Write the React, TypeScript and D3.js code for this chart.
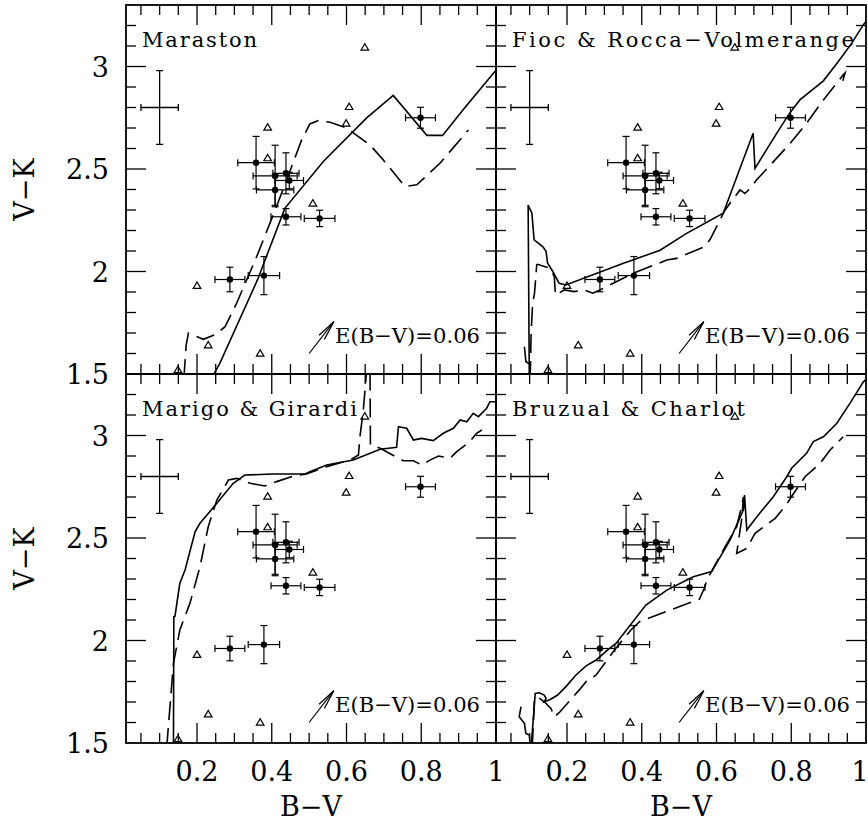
import React from 'react';
import * as d3 from 'd3';

// colour-colour diagram: B-V vs V-K, four model sets against the same clusters
type Pt = [number, number];

const bvDomain: Pt = [0.01, 1.0];
const vkDomain: Pt = [1.5, 3.3];

// clusters with error bars (filled dots)
const clusterBV = [0.358, 0.409, 0.438, 0.447, 0.409, 0.438, 0.528, 0.288, 0.379, 0.798];
const clusterVK = [2.531, 2.466, 2.479, 2.444, 2.398, 2.267, 2.259, 1.961, 1.98, 2.75];
const clusterBVErr = [0.049, 0.059, 0.035, 0.038, 0.05, 0.04, 0.041, 0.04, 0.042, 0.04];
const clusterVKErr = [0.128, 0.15, 0.1, 0.04, 0.075, 0.04, 0.04, 0.06, 0.093, 0.051];

// open triangles
const triBV = [0.649, 0.607, 0.599, 0.389, 0.389, 0.51, 0.2, 0.23, 0.369, 0.149];
const triVK = [3.094, 2.804, 2.723, 2.703, 2.554, 2.333, 1.931, 1.641, 1.601, 1.52];

// typical error cross
const refPoint: Pt = [0.1, 2.8];
const refErr: Pt = [0.05, 0.18];

// reddening vector
const reddenTail: Pt = [0.5, 1.6];
const reddenHead: Pt = [0.566, 1.755];
const reddenLabel = 'E(B−V)=0.06';

const xTickLabels = [0.2, 0.4, 0.6, 0.8, 1];
const yTickLabels = [1.5, 2, 2.5, 3];

// model tracks
const marastonSolid: Pt[] = [
  [0.239, 1.48], [0.261, 1.552], [0.362, 1.96], [0.435, 2.308], [0.538, 2.537], [0.654, 2.749],
  [0.725, 2.859], [0.815, 2.664], [0.857, 2.664], [0.912, 2.789], [0.953, 2.879], [0.997, 2.976], [1.01, 3.0],
];
const marastonDashed: Pt[] = [
  [0.165, 1.48], [0.171, 1.641], [0.177, 1.699], [0.217, 1.669], [0.251, 1.694], [0.275, 1.731],
  [0.306, 1.845], [0.36, 2.074], [0.413, 2.318], [0.44, 2.448], [0.48, 2.642], [0.502, 2.72],
  [0.525, 2.737], [0.556, 2.728], [0.6, 2.7], [0.663, 2.617], [0.698, 2.545], [0.756, 2.415],
  [0.788, 2.423], [0.85, 2.528], [0.926, 2.69],
];

const fiocSolid: Pt[] = [
  [0.099, 1.48], [0.099, 1.503], [0.096, 2.324], [0.106, 2.284], [0.112, 2.154], [0.135, 2.122],
  [0.144, 2.098], [0.148, 2.041], [0.162, 2.0], [0.179, 1.942], [0.197, 1.934], [0.351, 2.04],
  [0.376, 2.056], [0.449, 2.104], [0.52, 2.186], [0.618, 2.284], [0.698, 2.674], [0.703, 2.503],
  [0.761, 2.674], [0.792, 2.763], [0.823, 2.837], [0.886, 2.93], [0.926, 3.024], [0.962, 3.114],
  [0.993, 3.204], [1.01, 3.24],
];
const fiocDashed: Pt[] = [
  [0.086, 1.633], [0.09, 1.56], [0.097, 1.552], [0.101, 1.49], [0.102, 1.52], [0.104, 1.7],
  [0.108, 1.845], [0.113, 1.893], [0.119, 2.032], [0.121, 2.035], [0.148, 2.02], [0.157, 2.007],
  [0.166, 1.975], [0.169, 1.885], [0.193, 1.91], [0.219, 1.902], [0.246, 1.91], [0.269, 1.894],
  [0.288, 1.91], [0.377, 1.991], [0.467, 2.056], [0.493, 2.064], [0.569, 2.122], [0.583, 2.157],
  [0.623, 2.3], [0.636, 2.333], [0.663, 2.398], [0.676, 2.381], [0.69, 2.405], [0.707, 2.446],
  [0.797, 2.625], [0.841, 2.723], [0.886, 2.837], [0.939, 2.959], [0.944, 2.968], [0.938, 2.93],
];

const marigoSolid: Pt[] = [
  [0.137, 1.48], [0.138, 2.116], [0.141, 2.118], [0.154, 2.279], [0.168, 2.344], [0.195, 2.531],
  [0.208, 2.572], [0.253, 2.669], [0.297, 2.767], [0.328, 2.807], [0.404, 2.812], [0.489, 2.812],
  [0.502, 2.823], [0.547, 2.856], [0.618, 2.88], [0.69, 2.933], [0.734, 2.942], [0.739, 3.043],
  [0.761, 3.035], [0.779, 2.978], [0.801, 2.986], [0.832, 2.975], [0.859, 3.011], [0.886, 3.035],
  [0.904, 3.076], [0.922, 3.067], [0.939, 3.108], [0.953, 3.092], [0.975, 3.133], [0.984, 3.165],
  [1.01, 3.165],
];
const marigoDashed: Pt[] = [
  [0.119, 1.48], [0.137, 1.889], [0.154, 2.051], [0.181, 2.181], [0.208, 2.36], [0.23, 2.555],
  [0.253, 2.685], [0.284, 2.783], [0.306, 2.791], [0.342, 2.767], [0.382, 2.754], [0.413, 2.775],
  [0.458, 2.802], [0.493, 2.812], [0.547, 2.848], [0.609, 2.88], [0.632, 2.905], [0.636, 2.994],
  [0.645, 3.124], [0.654, 3.32], [0.66, 3.35], [0.663, 3.286], [0.664, 2.954], [0.69, 2.938],
  [0.734, 2.894], [0.752, 2.877], [0.779, 2.877], [0.801, 2.856], [0.823, 2.88], [0.846, 2.9],
  [0.877, 2.889], [0.895, 2.921], [0.93, 2.97], [0.948, 3.011], [0.962, 3.027],
];

const bruzualSolidA: Pt[] = [
  [0.077, 1.677], [0.072, 1.628], [0.086, 1.596], [0.09, 1.547], [0.099, 1.539], [0.102, 1.48],
];
const bruzualSolidB: Pt[] = [
  [0.104, 1.48], [0.115, 1.742], [0.126, 1.745], [0.139, 1.734], [0.144, 1.718], [0.139, 1.701],
  [0.155, 1.712], [0.175, 1.734], [0.197, 1.775], [0.224, 1.832], [0.251, 1.876], [0.278, 1.905],
  [0.309, 1.954], [0.331, 1.986], [0.411, 2.173], [0.467, 2.246], [0.538, 2.311], [0.587, 2.336],
  [0.636, 2.49], [0.672, 2.637], [0.675, 2.71], [0.681, 2.539], [0.708, 2.604], [0.752, 2.701],
  [0.788, 2.799], [0.801, 2.84], [0.841, 2.913], [0.859, 2.97], [0.886, 2.994], [0.922, 3.06],
  [0.957, 3.157], [0.993, 3.262], [1.01, 3.29],
];
const bruzualDashed: Pt[] = [
  [0.107, 1.48], [0.11, 1.6], [0.113, 1.72], [0.125, 1.72], [0.14, 1.7], [0.157, 1.669],
  [0.166, 1.628], [0.179, 1.648], [0.233, 1.759], [0.251, 1.799], [0.278, 1.832], [0.304, 1.897],
  [0.327, 1.954], [0.371, 2.051], [0.394, 2.092], [0.476, 2.149], [0.554, 2.201], [0.569, 2.262],
  [0.574, 2.295], [0.618, 2.441], [0.654, 2.555], [0.667, 2.653], [0.672, 2.7], [0.668, 2.6],
  [0.654, 2.425], [0.681, 2.45], [0.703, 2.523], [0.757, 2.596], [0.779, 2.645], [0.792, 2.677],
  [0.8, 2.7], [0.837, 2.799], [0.877, 2.864], [0.904, 2.929], [0.939, 2.994],
];

const panels = [
  { title: 'Maraston', titleLen: 115, col: 0, row: 0, solid: [marastonSolid], dashed: [marastonDashed] },
  { title: 'Fioc & Rocca−Volmerange', titleLen: 342, col: 1, row: 0, solid: [fiocSolid], dashed: [fiocDashed] },
  { title: 'Marigo & Girardi', titleLen: 215, col: 0, row: 1, solid: [marigoSolid], dashed: [marigoDashed] },
  { title: 'Bruzual & Charlot', titleLen: 233, col: 1, row: 1, solid: [bruzualSolidA, bruzualSolidB], dashed: [bruzualDashed] },
];

const colRange: Pt[] = [[126, 496], [496, 866]];
const rowRange: Pt[] = [[374, 5], [743, 374]];
const FONT = '"DejaVu Serif", "Liberation Serif", serif';

function Panel(props: any) {
  const { title, titleLen, col, row, solid, dashed } = props;
  const x = d3.scaleLinear().domain(bvDomain).range(colRange[col]);
  const y = d3.scaleLinear().domain(vkDomain).range(rowRange[row]);
  const line = d3.line<Pt>().x(d => x(d[0])).y(d => y(d[1]));
  const [left, right] = x.range();
  const [bottom, top] = y.range();
  const clipId = `clip-${col}-${row}`;

  const xt = d3.range(1, 20).map(i => ({ v: i * 0.05, major: i % 4 === 0 }));
  const yt = d3.range(16, 33).map(i => ({ v: i / 10, major: i % 5 === 0 }));

  // reddening arrow head
  const tx = x(reddenTail[0]), ty = y(reddenTail[1]);
  const hx = x(reddenHead[0]), hy = y(reddenHead[1]);
  const ang = Math.atan2(hy - ty, hx - tx);
  const barb = (s: number) => [hx - 20 * Math.cos(ang + s), hy - 20 * Math.sin(ang + s)];
  const b1 = barb(0.17), b2 = barb(-0.17);

  return (
    <g>
      <defs>
        <clipPath id={clipId}>
          <rect x={left} y={top} width={right - left} height={bottom - top} />
        </clipPath>
      </defs>
      {xt.map((t, i) => {
        const len = t.major ? 20 : 10;
        return (
          <g key={'x' + i} stroke="#000" strokeWidth={1.3}>
            <line x1={x(t.v)} x2={x(t.v)} y1={bottom} y2={bottom - len} />
            <line x1={x(t.v)} x2={x(t.v)} y1={top} y2={top + len} />
          </g>
        );
      })}
      {yt.map((t, i) => {
        const len = t.major ? 20 : 10;
        return (
          <g key={'y' + i} stroke="#000" strokeWidth={1.3}>
            <line x1={left} x2={left + len} y1={y(t.v)} y2={y(t.v)} />
            <line x1={right} x2={right - len} y1={y(t.v)} y2={y(t.v)} />
          </g>
        );
      })}
      <g clipPath={`url(#${clipId})`} fill="none" stroke="#000" strokeWidth={1.6}>
        {solid.map((s: Pt[], i: number) => <path key={'s' + i} d={line(s) || ''} />)}
        {dashed.map((s: Pt[], i: number) => (
          <path key={'d' + i} d={line(s) || ''} strokeDasharray="19 8" />
        ))}
      </g>
      {/* typical error */}
      <g stroke="#000" strokeWidth={1.3}>
        <line x1={x(refPoint[0] - refErr[0])} x2={x(refPoint[0] + refErr[0])} y1={y(refPoint[1])} y2={y(refPoint[1])} />
        <line x1={x(refPoint[0])} x2={x(refPoint[0])} y1={y(refPoint[1] - refErr[1])} y2={y(refPoint[1] + refErr[1])} />
        <line x1={x(refPoint[0] - refErr[0])} x2={x(refPoint[0] - refErr[0])} y1={y(refPoint[1]) - 3.5} y2={y(refPoint[1]) + 3.5} />
        <line x1={x(refPoint[0] + refErr[0])} x2={x(refPoint[0] + refErr[0])} y1={y(refPoint[1]) - 3.5} y2={y(refPoint[1]) + 3.5} />
        <line x1={x(refPoint[0]) - 3.5} x2={x(refPoint[0]) + 3.5} y1={y(refPoint[1] - refErr[1])} y2={y(refPoint[1] - refErr[1])} />
        <line x1={x(refPoint[0]) - 3.5} x2={x(refPoint[0]) + 3.5} y1={y(refPoint[1] + refErr[1])} y2={y(refPoint[1] + refErr[1])} />
      </g>
      {/* clusters */}
      {clusterBV.map((bv, i) => {
        const cx = x(bv), cy = y(clusterVK[i]);
        const xl = x(bv - clusterBVErr[i]), xr = x(bv + clusterBVErr[i]);
        const yb = y(clusterVK[i] - clusterVKErr[i]), ytp = y(clusterVK[i] + clusterVKErr[i]);
        return (
          <g key={'c' + i} stroke="#000" strokeWidth={1.2}>
            <line x1={xl} x2={xr} y1={cy} y2={cy} />
            <line x1={cx} x2={cx} y1={yb} y2={ytp} />
            <line x1={xl} x2={xl} y1={cy - 3.5} y2={cy + 3.5} />
            <line x1={xr} x2={xr} y1={cy - 3.5} y2={cy + 3.5} />
            <line x1={cx - 3.5} x2={cx + 3.5} y1={yb} y2={yb} />
            <line x1={cx - 3.5} x2={cx + 3.5} y1={ytp} y2={ytp} />
            <circle cx={cx} cy={cy} r={3.2} fill="#000" stroke="none" />
          </g>
        );
      })}
      {triBV.map((bv, i) => {
        const cx = x(bv), cy = y(triVK[i]);
        return (
          <path key={'t' + i} d={`M${cx - 3.8},${cy + 2.8}L${cx + 3.8},${cy + 2.8}L${cx},${cy - 3.6}Z`}
            fill="none" stroke="#000" strokeWidth={1.2} />
        );
      })}
      {/* reddening */}
      <g stroke="#000" strokeWidth={1.2} fill="none">
        <line x1={tx} y1={ty} x2={hx} y2={hy} />
        <line x1={b1[0]} y1={b1[1]} x2={hx} y2={hy} />
        <line x1={b2[0]} y1={b2[1]} x2={hx} y2={hy} />
      </g>
      <text x={left + 209} y={bottom - 31} fontFamily={FONT} fontSize={21} textLength={145}
        lengthAdjust="spacingAndGlyphs">{reddenLabel}</text>
      <text x={left + 16} y={top + 42} fontFamily={FONT} fontSize={21} textLength={titleLen}
        lengthAdjust="spacing">{title}</text>
      <rect x={left} y={top} width={right - left} height={bottom - top} fill="none" stroke="#000" strokeWidth={1.8} />
      {row === 1 && xTickLabels.map(v => {
        // keep the last label inside the page
        const px = Math.min(x(v), 860);
        return (
          <text key={'xl' + v} x={px} y={781} textAnchor="middle" fontFamily={FONT} fontSize={27}>
            {d3.format('~g')(v)}
          </text>
        );
      })}
      {col === 0 && yTickLabels.map(v => (
        <text key={'yl' + v} x={109} y={y(v) + 10} textAnchor="end" fontFamily={FONT} fontSize={27}>
          {d3.format('~g')(v)}
        </text>
      ))}
      {row === 1 && (
        <text x={(left + right) / 2} y={816} textAnchor="middle" fontFamily={FONT} fontSize={27}>B−V</text>
      )}
      {col === 0 && (
        <text transform={`translate(34,${(top + bottom) / 2}) rotate(-90)`} textAnchor="middle"
          fontFamily={FONT} fontSize={27}>V−K</text>
      )}
    </g>
  );
}

export default function App() {
  return (
    <svg width={868} height={825} style={{ position: 'absolute', left: 0, top: 0, background: '#fff' }}>
      <rect width={868} height={825} fill="#fff" />
      {panels.map(p => <Panel key={p.title} {...p} />)}
    </svg>
  );
}
